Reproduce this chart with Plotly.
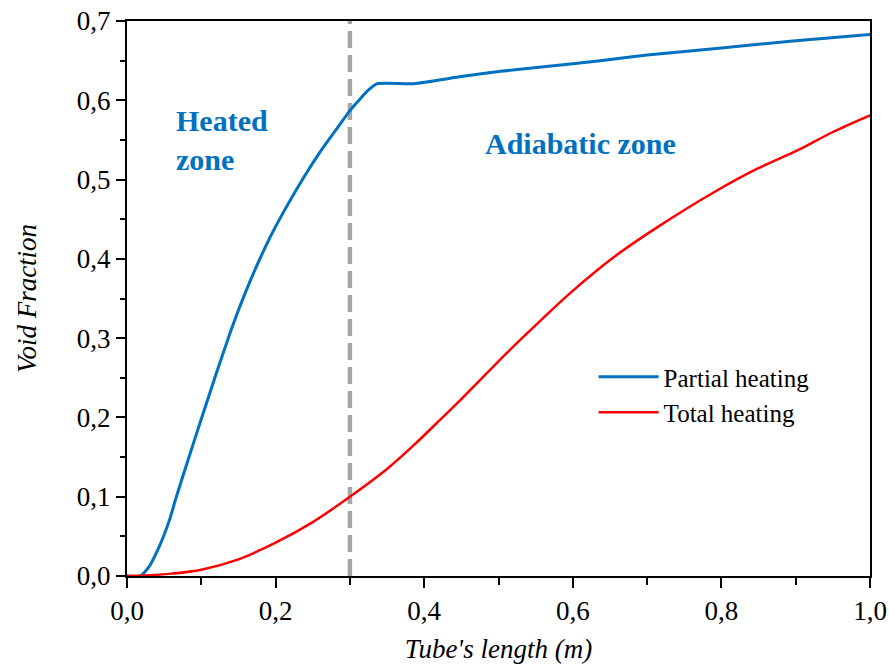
import plotly.graph_objects as go

# Partial heating (blue)
partial_x = [0, 0.018, 0.03, 0.04, 0.05, 0.058, 0.065, 0.08, 0.1, 0.12, 0.14, 0.157,
             0.175, 0.193, 0.21, 0.238, 0.26, 0.283, 0.30, 0.314, 0.325, 0.337,
             0.386, 0.45, 0.503, 0.6, 0.637, 0.7, 0.8, 0.9, 1.0]
partial_y = [0, 0, 0.012, 0.03, 0.052, 0.073, 0.0955, 0.14, 0.198, 0.255, 0.31, 0.352,
             0.392, 0.428, 0.458, 0.503, 0.535, 0.565, 0.587, 0.602, 0.613, 0.621,
             0.621, 0.63, 0.6365, 0.646, 0.65, 0.657, 0.666, 0.675, 0.683]

# Total heating (red)
total_x = [0, 0.03, 0.06, 0.1, 0.15, 0.2, 0.25, 0.3, 0.35, 0.386, 0.417, 0.453, 0.512,
           0.552, 0.593, 0.655, 0.714, 0.79, 0.849, 0.903, 0.95, 1.0]
total_y = [0, 0.001, 0.003, 0.008, 0.021, 0.042, 0.068, 0.1, 0.135, 0.165, 0.193, 0.226,
           0.282, 0.318, 0.354, 0.402, 0.44, 0.484, 0.514, 0.537, 0.56, 0.581]

boundary_x = 0.3
series_names = ["Partial heating", "Total heating"]
x_title = "Tube's length (m)"
y_title = "Void Fraction"

SERIF = "Liberation Serif"
BLUE = "#0070c0"

fig = go.Figure()
fig.add_trace(go.Scatter(x=partial_x, y=partial_y, mode="lines", name=series_names[0],
                         line=dict(color=BLUE, width=3, shape="spline", smoothing=0.5)))
fig.add_trace(go.Scatter(x=total_x, y=total_y, mode="lines", name=series_names[1],
                         line=dict(color="#ff0000", width=2.5, shape="spline", smoothing=0.9)))

fig.add_shape(type="line", xref="x", yref="y", x0=boundary_x, x1=boundary_x, y0=0, y1=0.7,
              line=dict(color="#a6a6a6", width=4.5, dash="17px,7px"), layer="below")

fig.add_annotation(x=0.063, y=0.55, xref="x", yref="y", text="<b>Heated<br>zone</b>",
                   showarrow=False, xanchor="left", align="left",
                   font=dict(family=SERIF, size=30, color=BLUE))
fig.add_annotation(x=0.61, y=0.545, xref="x", yref="y", text="<b>Adiabatic zone</b>",
                   showarrow=False, xanchor="center",
                   font=dict(family=SERIF, size=30, color=BLUE))

axis_common = dict(showline=True, linecolor="black", linewidth=2, mirror=True,
                   ticks="outside", tickcolor="black", tickwidth=2, showgrid=False,
                   zeroline=False, tickfont=dict(family=SERIF, size=27, color="black"))

fig.update_xaxes(range=[0, 1.0], dtick=0.2, tick0=0, ticklen=10, tickformat=".1f",
                 minor=dict(dtick=0.1, ticks="outside", ticklen=7, tickcolor="black", tickwidth=2),
                 title=dict(text=x_title, font=dict(family=SERIF, size=27, color="black", style="italic"),
                            standoff=14),
                 **axis_common)
fig.update_yaxes(range=[0, 0.7], dtick=0.1, tick0=0, ticklen=9, tickformat=".1f",
                 minor=dict(dtick=0.05, ticks="outside", ticklen=5, tickcolor="black", tickwidth=2),
                 title=dict(text=y_title, font=dict(family=SERIF, size=27, color="black", style="italic"),
                            standoff=32),
                 **axis_common)

fig.update_layout(
    width=889, height=672,
    margin=dict(l=127, r=19, t=21, b=96, autoexpand=False),
    plot_bgcolor="white", paper_bgcolor="white",
    separators=", ",
    showlegend=True,
    legend=dict(x=0.628, y=0.40, xanchor="left", yanchor="top", bgcolor="rgba(0,0,0,0)",
                font=dict(family=SERIF, size=25, color="black"), itemwidth=60,
                tracegroupgap=0),
)

fig.write_html("out.html")
